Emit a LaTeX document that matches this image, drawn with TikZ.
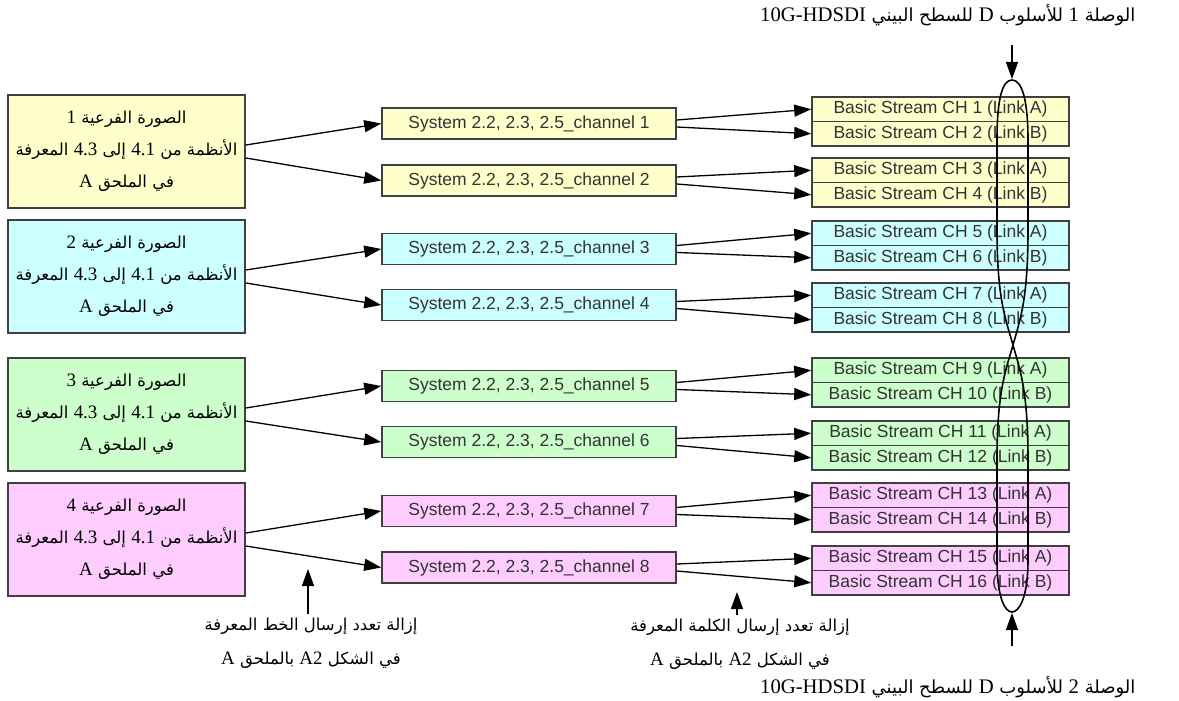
\documentclass[tikz,border=0pt]{standalone}
\usepackage{fontspec}
\setmainfont{Liberation Serif}
\newfontfamily\arabicfont[Script=Arabic]{DejaVu Sans}
\newfontfamily\boxfont{Liberation Sans}
\newfontfamily\latfont[Scale=1.15]{Liberation Serif}
\usetikzlibrary{arrows.meta}
\TeXXeTstate=1
\definecolor{yel}{HTML}{FFFFCC}
\definecolor{cya}{HTML}{CCFFFF}
\definecolor{grn}{HTML}{CCFFCC}
\definecolor{pnk}{HTML}{FFCCFF}
\newcommand\arline[1]{\beginR #1\endR}
\newcommand\lat[1]{{\latfont #1}}

\begin{document}
\begin{tikzpicture}[x=1pt,y=-1pt,
		sub/.style={draw=black!75,line width=1.6pt,minimum width=237pt,minimum height=113pt,align=center,font=\arabicfont\fontsize{16.5}{32}\selectfont},
		chan/.style={draw=black!75,line width=1.6pt,minimum width=294pt,minimum height=31pt,inner sep=0pt,text=black!80,font=\boxfont\fontsize{17.5}{20}\selectfont},
		bs/.style={chan,minimum width=257pt,minimum height=24.5pt},
		conn/.style={line width=1.3pt,-{Triangle[length=17pt,width=12pt]}},
		note/.style={align=center,font=\arabicfont\fontsize{16.5}{34}\selectfont},
		head/.style={anchor=east,font=\arabicfont\fontsize{18}{22}\selectfont}]
		\useasboundingbox (0,0) rectangle (1179,701);

		\foreach \i/\y/\c in {1/151.5/yel,2/276.5/cya,3/414.5/grn,4/539.5/pnk}
			\node[sub,fill=\c] (sub\i) at (126.5,\y) {\arline{الصورة الفرعية \lat{\i}}\\\arline{الأنظمة من \lat{4.1} إلى \lat{4.3} المعرفة}\\\arline{في الملحق \lat{A}}};

		\foreach \j/\y/\c in {1/123.5/yel,2/180.5/yel,3/249/cya,4/305/cya,5/386/grn,6/442/grn,7/511/pnk,8/567.5/pnk}
			\node[chan,fill=\c] (ch\j) at (529,\y) {System 2.2, 2.3, 2.5\_channel \j};

		\foreach \j/\ty/\c in {1/97/yel,2/158/yel,3/221/cya,4/283/cya,5/358/grn,6/421/grn,7/483/pnk,8/546/pnk} {
			\pgfmathtruncatemacro\a{2*\j-1}
			\pgfmathtruncatemacro\b{2*\j}
			\node[bs,fill=\c] (bs\a) at (940.5,\ty+12.25) {Basic Stream CH \a\ (Link A)};
			\node[bs,fill=\c] (bs\b) at (940.5,\ty+36.75) {Basic Stream CH \b\ (Link B)};
			\draw[conn] ([yshift=3.5pt]ch\j.east) -- (bs\a.west);
			\draw[conn] ([yshift=-3.5pt]ch\j.east) -- (bs\b.west);
		}

		\foreach \i in {1,...,4} {
			\pgfmathtruncatemacro\a{2*\i-1}
			\pgfmathtruncatemacro\b{2*\i}
			\draw[conn] ([yshift=6.5pt]sub\i.east) -- (ch\a.west);
			\draw[conn] ([yshift=-6.5pt]sub\i.east) -- (ch\b.west);
		}

		\draw[line width=1.6pt] (1012,80) .. controls (1002,80) and (997,100) .. (997,140) -- (997,230)
			.. controls (997,300) and (1006,320) .. (1013,345) .. controls (1020,370) and (1028,390) .. (1028,460)
			-- (1028,560) .. controls (1028,598) and (1019,612) .. (1012,612) .. controls (1005,612) and (997,598) .. (997,560)
			-- (997,460) .. controls (997,390) and (1006,370) .. (1013,345) .. controls (1020,320) and (1028,300) .. (1028,230)
			-- (1028,140) .. controls (1028,100) and (1022,80) .. (1012,80) -- cycle;

		\coordinate (lnkA) at (1012,79);
		\coordinate (lnkB) at (1012,613);
		\coordinate (inA) at (1012,45);
		\coordinate (inB) at (1012,646);
		\draw[conn] (inA) -- (lnkA);
		\draw[conn] (inB) -- (lnkB);

		\node[head] (lab1) at (1139,15) {\arline{الوصلة \lat{1} للأسلوب \lat{D} للسطح البيني \lat{10G-HDSDI}}};
		\node[head] (lab2) at (1139,687) {\arline{الوصلة \lat{2} للأسلوب \lat{D} للسطح البيني \lat{10G-HDSDI}}};

		\node[note] (dmx1) at (311,643) {\arline{إزالة تعدد إرسال الخط المعرفة}\\\arline{في الشكل \lat{A2} بالملحق \lat{A}}};
		\node[note] (dmx2) at (740,644) {\arline{إزالة تعدد إرسال الكلمة المعرفة}\\\arline{في الشكل \lat{A2} بالملحق \lat{A}}};
		\coordinate (tip1) at (308,569);
		\coordinate (tip2) at (737,592);
		\draw[conn] (tip1 |- dmx1.north) -- (tip1);
		\draw[conn] (tip2 |- dmx2.north) -- (tip2);
	\end{tikzpicture}
\end{document}
